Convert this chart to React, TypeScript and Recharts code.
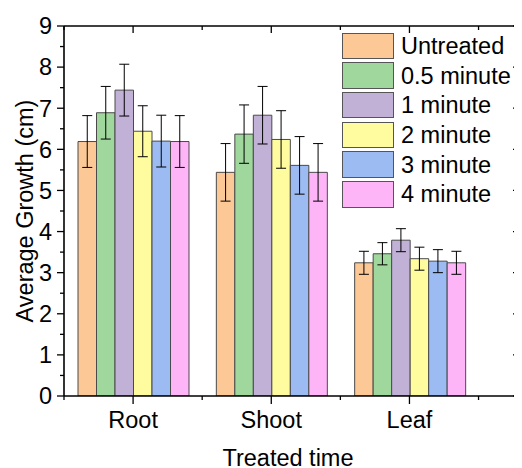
import React from 'react';
import { BarChart, Bar, XAxis, YAxis, ErrorBar, Legend } from 'recharts';

const categories = ['Root', 'Shoot', 'Leaf'];
const seriesNames = ['Untreated', '0.5 minute', '1 minute', '2 minute', '3 minute', '4 minute'];
const seriesColors = ['#FCC896', '#9FD79D', '#C2B1D7', '#FFFC9F', '#9CBBF2', '#FEB5F8'];

const untreated = [6.19, 5.44, 3.24];
const untreatedErr = [0.63, 0.70, 0.28];
const halfMinute = [6.89, 6.37, 3.46];
const halfMinuteErr = [0.64, 0.71, 0.27];
const oneMinute = [7.44, 6.83, 3.79];
const oneMinuteErr = [0.63, 0.70, 0.28];
const twoMinute = [6.44, 6.24, 3.34];
const twoMinuteErr = [0.62, 0.70, 0.28];
const threeMinute = [6.20, 5.61, 3.28];
const threeMinuteErr = [0.63, 0.70, 0.28];
const fourMinute = [6.19, 5.44, 3.24];
const fourMinuteErr = [0.63, 0.70, 0.28];

// major ticks are integers, minor ticks the halves
const yTicks = [0, 0.5, 1, 1.5, 2, 2.5, 3, 3.5, 4, 4.5, 5, 5.5, 6, 6.5, 7, 7.5, 8, 8.5, 9];
const yDomain = [0, 9];
const xTicks = [0.5, 1, 1.5, 2, 2.5, 3, 3.5];
const xDomain = [0.5, 3.8];

const allValues = [untreated, halfMinute, oneMinute, twoMinute, threeMinute, fourMinute];
const allErrors = [untreatedErr, halfMinuteErr, oneMinuteErr, twoMinuteErr, threeMinuteErr, fourMinuteErr];

const data = categories.map((c, i) => {
  const row: any = { category: c, pos: i + 1 };
  allValues.forEach((arr, s) => {
    row['v' + s] = arr[i];
    row['e' + s] = allErrors[s][i];
  });
  return row;
});

const FONT = '"Liberation Sans", Arial, sans-serif';
const FS = 23.5;
const TICK_W = 1.3;
const isMajor = (v: number) => Math.abs(v - Math.round(v)) < 1e-9;

const BottomTick = (props: any) => {
  const { x, y, payload } = props;
  const v = payload.value;
  const major = isMajor(v);
  return (
    <g>
      <line x1={x} y1={y} x2={x} y2={y + (major ? 8 : 4)} stroke="#000" strokeWidth={TICK_W} />
      {major && (
        <text x={x} y={y + 15} dy="0.71em" textAnchor="middle" fontSize={FS} fill="#000" fontFamily={FONT}>
          {categories[v - 1]}
        </text>
      )}
    </g>
  );
};

const TopTick = (props: any) => {
  const { x, y, payload } = props;
  const major = isMajor(payload.value);
  return <line x1={x} y1={y} x2={x} y2={y + (major ? 7 : 4)} stroke="#000" strokeWidth={TICK_W} />;
};

const LeftTick = (props: any) => {
  const { x, y, payload } = props;
  const v = payload.value;
  const major = isMajor(v);
  return (
    <g>
      <line x1={x} y1={y} x2={x - (major ? 7 : 4)} y2={y} stroke="#000" strokeWidth={TICK_W} />
      {major && (
        <text x={x - 12} y={y} dy="0.355em" textAnchor="end" fontSize={FS} fill="#000" fontFamily={FONT}>
          {v}
        </text>
      )}
    </g>
  );
};

const RightTick = (props: any) => {
  const { x, y, payload } = props;
  const major = isMajor(payload.value);
  return <line x1={x} y1={y} x2={x - (major ? 7 : 4)} y2={y} stroke="#000" strokeWidth={TICK_W} />;
};

const XTitle = (props: any) => {
  const vb = props.viewBox || {};
  const cx = vb.x + vb.width / 2 - 4;
  const y = vb.y + vb.height - 2;
  return (
    <text x={cx} y={y} textAnchor="middle" fontSize={FS} fill="#000" fontFamily={FONT}>
      Treated time
    </text>
  );
};

const YTitle = (props: any) => {
  const vb = props.viewBox || {};
  const x = vb.x + 24.5;
  const cy = vb.y + vb.height / 2;
  return (
    <text x={x} y={cy} transform={`rotate(-90 ${x} ${cy})`} textAnchor="middle" fontSize={FS} fill="#000" fontFamily={FONT}>
      Average Growth (cm)
    </text>
  );
};

const renderLegend = () => (
  <div style={{ fontFamily: FONT }}>
    {seriesNames.map((name, i) => (
      <div key={name} style={{ display: 'flex', alignItems: 'center', height: 29.7 }}>
        <div
          style={{
            width: 52,
            height: 26.5,
            boxSizing: 'border-box',
            border: '1.5px solid #555',
            background: seriesColors[i],
          }}
        />
        <span style={{ marginLeft: 7, fontSize: FS, color: '#000', lineHeight: '26px', whiteSpace: 'nowrap' }}>
          {name}
        </span>
      </div>
    ))}
  </div>
);

export default function App() {
  const axisStroke = { stroke: '#000', strokeWidth: 1.6 };
  const numX = { type: 'number' as const, dataKey: 'pos', domain: xDomain, allowDataOverflow: true, interval: 0, ticks: xTicks, tickSize: 0, tickMargin: 0, tickLine: false };
  const numY = { type: 'number' as const, domain: yDomain, allowDataOverflow: true, interval: 0, ticks: yTicks, tickSize: 0, tickMargin: 0, tickLine: false };
  return (
    <div style={{ width: 514, height: 460, fontFamily: FONT }}>
      <BarChart
        width={514}
        height={460}
        data={data}
        margin={{ top: 17, right: 1, left: 0, bottom: 0 }}
        barGap={0}
        style={{ fontFamily: FONT }}
      >
        <XAxis xAxisId="cat" dataKey="category" type="category" hide height={0} padding={{ left: 0, right: 41 }} />
        <XAxis xAxisId="bottom" {...numX} tick={BottomTick} axisLine={axisStroke} height={72} label={<XTitle />} />
        <XAxis xAxisId="top" orientation="top" {...numX} tick={TopTick} axisLine={axisStroke} height={1} />
        <YAxis yAxisId="main" {...numY} tick={LeftTick} axisLine={axisStroke} width={56} label={<YTitle />} />
        <YAxis yAxisId="right" orientation="right" {...numY} tick={RightTick} axisLine={axisStroke} width={1} />
        <Legend
          layout="horizontal"
          verticalAlign="middle"
          align="center"
          content={renderLegend}
          wrapperStyle={{ left: 334, top: 23, width: 'auto', height: 'auto' }}
        />
        {seriesNames.map((name, s) => (
          <Bar
            key={name}
            name={name}
            dataKey={'v' + s}
            xAxisId="cat"
            yAxisId="main"
            fill={seriesColors[s]}
            stroke="#4a4a4a"
            strokeWidth={1}
            barSize={18.5}
            isAnimationActive={false}
          >
            <ErrorBar dataKey={'e' + s} width={5} strokeWidth={1} stroke="#000" direction="y" />
          </Bar>
        ))}
      </BarChart>
    </div>
  );
}
